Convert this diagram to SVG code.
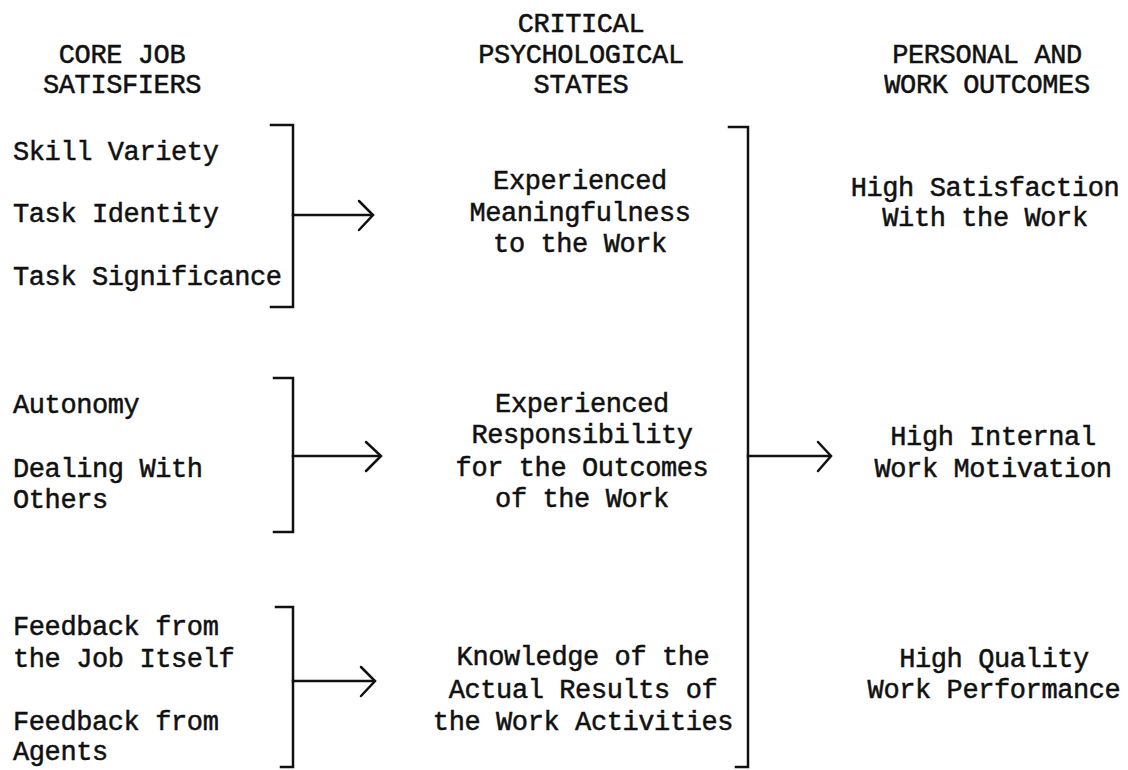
<svg xmlns="http://www.w3.org/2000/svg" width="1128" height="770" viewBox="0 0 1128 770">
<style>
text{font-family:"Liberation Mono","DejaVu Sans Mono",monospace;font-size:27px;fill:#111;stroke:#111;stroke-width:0.5px;letter-spacing:-0.4px}
.c{text-anchor:middle}
.ln{stroke:#111;stroke-width:2.5;fill:none;stroke-linecap:square}
.ah{stroke:#111;stroke-width:2.5;fill:none;stroke-linecap:round;stroke-linejoin:miter}
</style>
<rect width="1128" height="770" fill="#fff"/>
<g id="headers">
<text class="c" x="122" y="63">CORE JOB</text>
<text class="c" x="122" y="93">SATISFIERS</text>
<text class="c" x="581" y="32">CRITICAL</text>
<text class="c" x="581" y="63">PSYCHOLOGICAL</text>
<text class="c" x="581" y="93">STATES</text>
<text class="c" x="987" y="63">PERSONAL AND</text>
<text class="c" x="987" y="93">WORK OUTCOMES</text>
</g>
<g id="satisfiers-1">
<text x="13" y="160">Skill Variety</text>
<text x="13" y="222">Task Identity</text>
<text x="13" y="285">Task Significance</text>
</g>
<g id="satisfiers-2">
<text x="13" y="413">Autonomy</text>
<text x="13" y="477">Dealing With</text>
<text x="13" y="508">Others</text>
</g>
<g id="satisfiers-3">
<text x="13" y="635">Feedback from</text>
<text x="13" y="667">the Job Itself</text>
<text x="13" y="730">Feedback from</text>
<text x="13" y="760">Agents</text>
</g>
<g id="state-meaningfulness">
<text class="c" x="580" y="189">Experienced</text>
<text class="c" x="580" y="221">Meaningfulness</text>
<text class="c" x="580" y="252">to the Work</text>
</g>
<g id="state-responsibility">
<text class="c" x="582" y="412">Experienced</text>
<text class="c" x="582" y="443">Responsibility</text>
<text class="c" x="582" y="476">for the Outcomes</text>
<text class="c" x="582" y="507">of the Work</text>
</g>
<g id="state-knowledge">
<text class="c" x="583" y="665">Knowledge of the</text>
<text class="c" x="583" y="698">Actual Results of</text>
<text class="c" x="583" y="730">the Work Activities</text>
</g>
<g id="outcome-satisfaction">
<text class="c" x="985" y="196">High Satisfaction</text>
<text class="c" x="985" y="226">With the Work</text>
</g>
<g id="outcome-motivation">
<text class="c" x="993" y="445">High Internal</text>
<text class="c" x="993" y="477">Work Motivation</text>
</g>
<g id="outcome-performance">
<text class="c" x="994" y="667">High Quality</text>
<text class="c" x="994" y="698">Work Performance</text>
</g>
<g id="connectors">
<path class="ln" d="M271 125 H293 V307 H271"/>
<path class="ln" d="M293 215 H372"/>
<path class="ah" d="M359 201 L373 215 L359 230"/>
<path class="ln" d="M274 378 H293 V532 H274"/>
<path class="ln" d="M293 456 H380"/>
<path class="ah" d="M366 442 L381 456 L366 471"/>
<path class="ln" d="M276 607 H293 V767 H281"/>
<path class="ln" d="M293 681 H374"/>
<path class="ah" d="M361 667 L375 681 L361 696"/>
<path class="ln" d="M729 127 H748 V767 H736"/>
<path class="ln" d="M748 456 H830"/>
<path class="ah" d="M818 442 L831 456 L818 471"/>
</g>
</svg>
